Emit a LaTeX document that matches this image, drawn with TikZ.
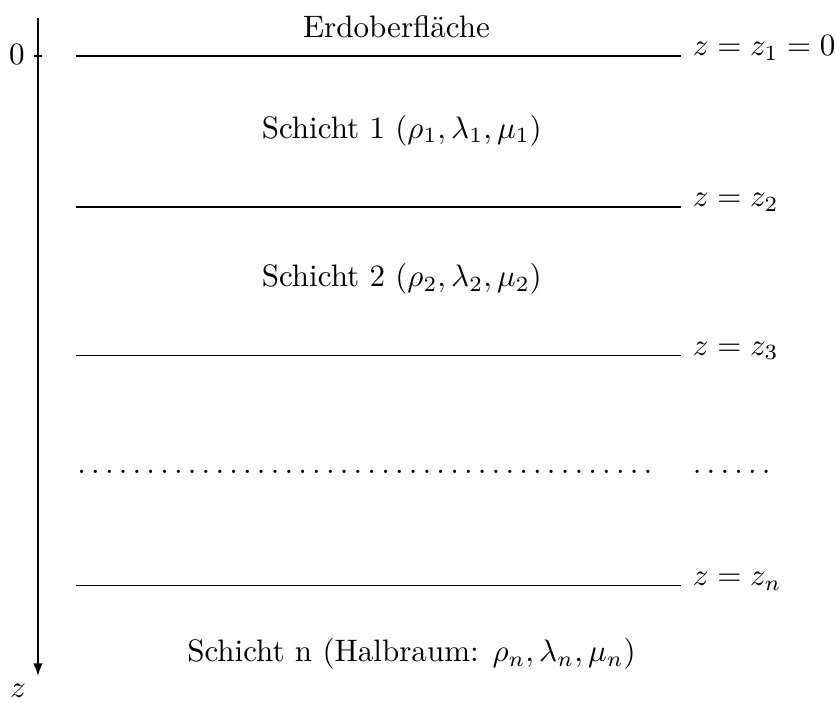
\documentclass[tikz,border=0pt]{standalone}
\usetikzlibrary{arrows}
\newcommand\tripdots{.\kern1.67pt.\kern1.67pt.\kern1.67pt}
\begin{document}
\begin{tikzpicture}[
  layer/.style={line width=0.4pt},
  axisline/.style={-latex, line width=0.4pt},
  lbl/.style={anchor=base west, inner sep=0pt, xshift=0.13cm},
  txt/.style={anchor=base, inner sep=0pt}
]
\useasboundingbox (-0.430,-7.316) rectangle (9.026,0.634);
% axis
\coordinate (axtop) at (0,0.43);
\coordinate (axbot) at (0,-7.02);
\draw[axisline] (axtop) -- (axbot);
\coordinate (tickl) at (-0.05,0);
\coordinate (tickr) at (0.05,0);
\draw[layer] (tickl) -- (tickr);
\node[txt] (zero) at (-0.238,-0.10) {$0$};
\node[txt] (zlab) at (-0.226,-7.27) {$z$};
% layer boundaries
\coordinate (l1a) at (0.43,0);     \coordinate (l1b) at (7.28,0);
\coordinate (l2a) at (0.43,-1.71); \coordinate (l2b) at (7.28,-1.71);
\coordinate (l3a) at (0.43,-3.39); \coordinate (l3b) at (7.28,-3.39);
\coordinate (l4a) at (0.43,-6.0);  \coordinate (l4b) at (7.28,-6.0);
\draw[layer] (l1a) -- (l1b);
\draw[layer] (l2a) -- (l2b);
\draw[layer] (l3a) -- (l3b);
\draw[layer] (l4a) -- (l4b);
\node[lbl] (z1) at (l1b) {$z=z_1=0$};
\node[lbl] (z2) at (l2b) {$z=z_2$};
\node[lbl] (z3) at (l3b) {$z=z_3$};
\node[lbl] (zn) at (l4b) {$z=z_n$};
% texts
\node[txt] (surf) at (4.06,0.21) {Erdoberfläche};
\node[txt] (s1) at (4.12,-0.93) {Schicht 1 $(\rho_1,\lambda_1,\mu_1)$};
\node[txt] (s2) at (4.12,-2.61) {Schicht 2 $(\rho_2,\lambda_2,\mu_2)$};
\node[txt] (sn) at (4.23,-6.86) {Schicht n (Halbraum: $\rho_n,\lambda_n,\mu_n$)};
% dots
\coordinate (dl) at (0.44,-4.73);
\coordinate (dr) at (7.28,-4.73);
\node[anchor=base west, inner sep=0pt] (dotsl) at (dl) {\tripdots\tripdots\tripdots\tripdots\tripdots\tripdots\tripdots\tripdots\tripdots\tripdots\tripdots\tripdots\tripdots\tripdots};
\node[lbl] (dotsr) at (dr) {\tripdots\tripdots};
\end{tikzpicture}
\end{document}
